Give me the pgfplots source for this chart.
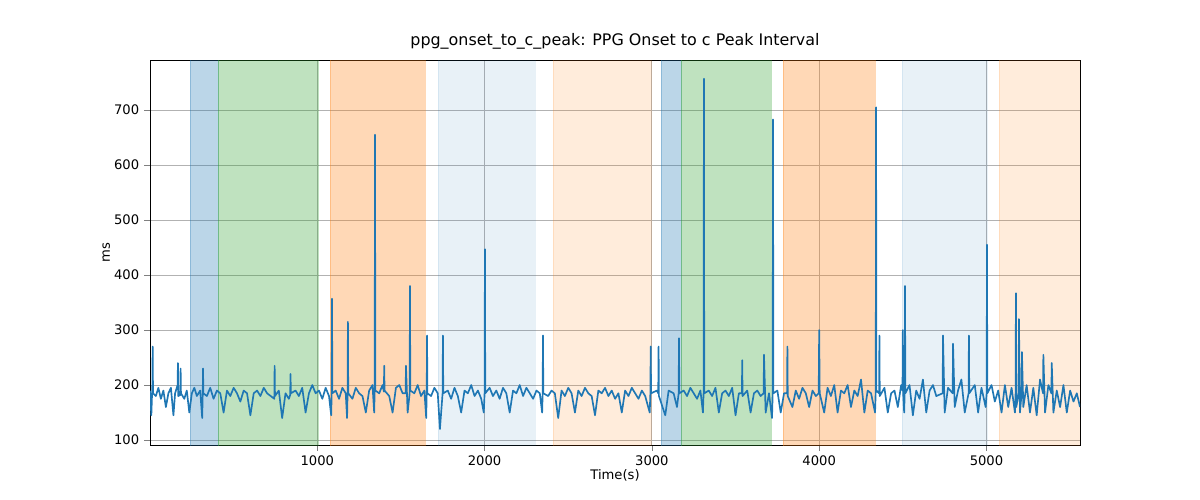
\documentclass[border=0pt]{standalone}
\usepackage{pgfplots}
\pgfplotsset{compat=1.18}
\usepackage{fontspec}
\setmainfont{DejaVu Sans}
\definecolor{tb}{RGB}{31,119,180}
\definecolor{tg}{RGB}{44,160,44}
\definecolor{to}{RGB}{255,127,14}
\newcommand{\vspanreg}[4]{\addplot[fill=#3,fill opacity=#4,draw=#3,draw opacity=#4] coordinates {(#1,0) (#2,0) (#2,1000) (#1,1000)} -- cycle;}
\begin{document}
\begin{tikzpicture}
\begin{axis}[scale only axis,width=9.3in,height=3.85in,
xmin=0,xmax=5559,ymin=91,ymax=791,
xtick={1000,2000,3000,4000,5000},ytick={100,200,...,700},
grid=major,grid style={gray!60,line width=0.6pt},
tick label style={font=\fontsize{9.5}{12}\selectfont},
/pgf/number format/assume math mode=true,
/pgf/number format/set thousands separator={},
xlabel={Time(s)},ylabel={ms},
label style={font=\fontsize{9.5}{12}\selectfont},
title={ppg\_onset\_to\_c\_peak: PPG Onset to c Peak Interval},
title style={font=\fontsize{11.5}{14}\selectfont,yshift=-2pt},
tick align=outside,tick pos=left,
xlabel style={yshift=4pt},ylabel style={yshift=-4pt}]
\vspanreg{239}{406}{tb}{0.3}
\vspanreg{406}{1004}{tg}{0.3}
\vspanreg{1076}{1644}{to}{0.3}
\vspanreg{1721}{2301}{tb}{0.1}
\vspanreg{2409}{2995}{to}{0.15}
\vspanreg{3054}{3174}{tb}{0.3}
\vspanreg{3174}{3712}{tg}{0.3}
\vspanreg{3784}{4334}{to}{0.3}
\vspanreg{4495}{5003}{tb}{0.1}
\vspanreg{5075}{5559}{to}{0.15}
\addplot[tb,line width=1.2pt,line join=round] coordinates {
(0,190)(8,145)(14,200)(16,270)(18,185)(35,180)(50,195)(65,175)(80,190)(95,160)(110,185)(125,195)(140,145)(150,185)(165,200)(167,240)(169,180)(181,182)(183,230)(185,185)(205,175)(220,190)(235,150)(250,185)(265,195)(280,180)(300,190)(312,140)(315,182)(317,230)(319,185)(340,180)(360,195)(380,175)(400,190)(420,185)(440,150)(460,190)(480,180)(500,195)(520,185)(540,170)(560,190)(580,185)(600,145)(620,185)(640,190)(660,180)(680,195)(700,185)(743,175)(745,235)(747,180)(770,190)(790,140)(810,185)(830,175)(838,182)(840,220)(842,185)(870,190)(890,180)(910,195)(930,150)(950,185)(970,200)(990,185)(1010,190)(1030,175)(1050,195)(1070,180)(1083,145)(1086,185)(1088,357)(1090,185)(1110,190)(1130,175)(1150,195)(1170,185)(1178,140)(1181,185)(1183,315)(1185,185)(1210,175)(1230,195)(1250,185)(1270,180)(1290,150)(1310,190)(1330,200)(1340,150)(1343,190)(1345,655)(1347,190)(1370,185)(1390,200)(1398,188)(1400,235)(1402,190)(1430,180)(1450,150)(1470,195)(1490,200)(1510,185)(1528,185)(1530,235)(1540,150)(1552,185)(1554,380)(1556,190)(1580,185)(1600,200)(1620,180)(1640,190)(1651,140)(1654,185)(1656,290)(1658,185)(1680,180)(1700,195)(1720,185)(1733,120)(1749,185)(1751,290)(1753,185)(1780,190)(1800,175)(1820,195)(1840,180)(1860,150)(1880,190)(1900,185)(1920,200)(1940,180)(1960,190)(1980,175)(1995,150)(2000,185)(2002,447)(2004,185)(2030,195)(2050,180)(2070,190)(2090,175)(2110,195)(2130,185)(2150,150)(2170,190)(2190,185)(2210,200)(2230,180)(2250,195)(2270,185)(2290,175)(2310,190)(2330,185)(2344,150)(2347,185)(2349,290)(2351,185)(2380,180)(2400,190)(2420,185)(2440,140)(2460,190)(2480,180)(2500,195)(2520,185)(2540,150)(2560,190)(2580,180)(2600,195)(2620,185)(2640,180)(2660,145)(2680,190)(2700,185)(2720,195)(2740,180)(2760,190)(2780,175)(2800,185)(2820,150)(2840,190)(2860,180)(2880,195)(2900,185)(2920,175)(2940,190)(2960,180)(2987,150)(2991,185)(2993,270)(2995,185)(3030,190)(3038,185)(3040,270)(3042,180)(3080,145)(3100,190)(3130,185)(3150,160)(3160,185)(3162,285)(3164,185)(3190,190)(3210,180)(3230,195)(3250,185)(3270,175)(3290,190)(3305,150)(3309,185)(3311,757)(3313,185)(3340,190)(3360,180)(3380,195)(3400,150)(3420,185)(3440,190)(3460,180)(3480,195)(3500,145)(3520,185)(3538,185)(3540,245)(3542,180)(3570,190)(3590,150)(3610,185)(3630,190)(3650,180)(3668,185)(3670,255)(3680,150)(3700,185)(3718,140)(3722,185)(3724,683)(3726,185)(3750,190)(3770,150)(3790,185)(3808,185)(3810,270)(3812,180)(3840,160)(3860,190)(3880,175)(3900,195)(3920,185)(3940,160)(3960,190)(3980,180)(3997,185)(4000,300)(4003,185)(4030,150)(4050,195)(4070,180)(4090,200)(4110,150)(4130,190)(4150,185)(4170,200)(4190,160)(4210,190)(4230,180)(4250,210)(4270,150)(4290,190)(4310,185)(4334,150)(4338,190)(4340,705)(4342,190)(4358,185)(4360,290)(4362,180)(4390,195)(4410,150)(4430,185)(4450,190)(4470,160)(4490,200)(4498,190)(4500,300)(4502,185)(4508,150)(4511,185)(4513,380)(4515,185)(4540,200)(4560,145)(4580,190)(4600,175)(4620,210)(4640,150)(4660,190)(4680,200)(4700,180)(4738,185)(4740,290)(4750,150)(4770,195)(4798,185)(4800,275)(4810,160)(4830,190)(4850,210)(4870,150)(4893,185)(4895,290)(4897,185)(4930,200)(4950,150)(4970,195)(4995,160)(5001,185)(5003,455)(5005,185)(5030,200)(5050,170)(5070,190)(5090,150)(5110,200)(5130,160)(5150,195)(5170,150)(5174,185)(5176,367)(5178,160)(5192,185)(5194,320)(5200,150)(5210,185)(5212,260)(5220,160)(5240,200)(5260,150)(5280,195)(5300,145)(5320,210)(5338,185)(5340,255)(5350,150)(5370,200)(5388,185)(5390,240)(5400,150)(5420,190)(5440,160)(5460,200)(5480,150)(5500,190)(5520,170)(5540,185)(5559,160)
};
\end{axis}
\path (current axis.south west) ++(-1.5in,-0.55in) rectangle ([xshift=1.2in,yshift=0.6in]current axis.north east);
\end{tikzpicture}
\end{document}
